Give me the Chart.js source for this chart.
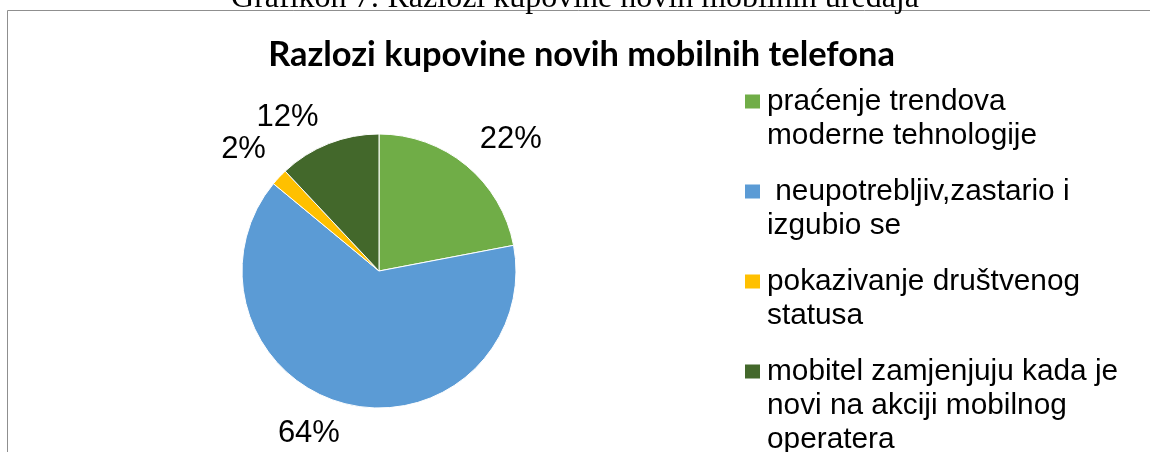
<!DOCTYPE html>
<html><head><meta charset="utf-8">
<script src="https://cdn.jsdelivr.net/npm/chart.js@4/dist/chart.umd.min.js"></script>
<style>html,body{margin:0;padding:0;background:#fff;overflow:hidden}canvas{display:block}</style>
</head><body>
<canvas id="c" width="1150" height="452"></canvas>
<script>
const caption = 'Grafikon 7: Razlozi kupovine novih mobilnih uređaja';
const chartTitle = 'Razlozi kupovine novih mobilnih telefona';
const categories = [
  'praćenje trendova moderne tehnologije',
  ' neupotrebljiv,zastario i izgubio se',
  'pokazivanje društvenog statusa',
  'mobitel zamjenjuju kada je novi na akciji mobilnog operatera'
];
const legendLines = [
  ['praćenje trendova', 'moderne tehnologije'],
  [' neupotrebljiv,zastario i', 'izgubio se'],
  ['pokazivanje društvenog', 'statusa'],
  ['mobitel zamjenjuju kada je', 'novi na akciji mobilnog', 'operatera']
];
const values = [22, 64, 2, 12];
const sliceColors = ['#70AD47', '#5B9BD5', '#FFC000', '#43682B'];

// label placement (style/layout, not data)
const labelNudgeDeg = [5.5, 9, -1.3, -9.1];
const labelGap = [49, 39.5, 45, 42];

const total = values.reduce((a, b) => a + b, 0);

const decor = {
  id: 'decor',
  beforeDraw(chart) {
    const ctx = chart.ctx;
    ctx.save();
    ctx.fillStyle = '#fff';
    ctx.fillRect(0, 0, chart.width, chart.height);
    // frame
    ctx.strokeStyle = '#8f8f8f';
    ctx.lineWidth = 1;
    ctx.beginPath();
    ctx.moveTo(7.5, chart.height);
    ctx.lineTo(7.5, 10.5);
    ctx.lineTo(chart.width, 10.5);
    ctx.stroke();
    // caption (cut at top)
    ctx.fillStyle = '#000';
    ctx.font = '32px "Liberation Serif", "Times New Roman", serif';
    ctx.textAlign = 'center';
    ctx.textBaseline = 'alphabetic';
    ctx.fillText(caption, 575, 7);
    // title
    let fs = 30;
    ctx.font = 'bold ' + fs + 'px Lato, "Open Sans", sans-serif';
    const w = ctx.measureText(chartTitle).width;
    fs = fs * 627 / w;
    ctx.font = 'bold ' + fs.toFixed(2) + 'px Lato, "Open Sans", sans-serif';
    ctx.fillText(chartTitle, 581.5, 66);
    ctx.restore();
  },
  afterDraw(chart) {
    const ctx = chart.ctx;
    const meta = chart.getDatasetMeta(0);
    ctx.save();
    ctx.fillStyle = '#000';
    ctx.font = '31px "Liberation Sans", Arial, sans-serif';
    ctx.textAlign = 'center';
    ctx.textBaseline = 'middle';
    meta.data.forEach((arc, i) => {
      const p = arc.getProps(['x', 'y', 'startAngle', 'endAngle', 'outerRadius'], true);
      const mid = (p.startAngle + p.endAngle) / 2 + labelNudgeDeg[i] * Math.PI / 180;
      const d = p.outerRadius + labelGap[i];
      const txt = Math.round(values[i] / total * 100) + '%';
      ctx.fillText(txt, p.x + Math.cos(mid) * d, p.y + Math.sin(mid) * d);
    });
    // legend
    ctx.font = '29.8px "Liberation Sans", Arial, sans-serif';
    ctx.textAlign = 'left';
    ctx.textBaseline = 'alphabetic';
    const lineH = 34;
    let base = 109.5;
    legendLines.forEach((lines, i) => {
      ctx.fillStyle = sliceColors[i];
      ctx.fillRect(745, base - 15, 15, 14);
      ctx.fillStyle = '#000';
      lines.forEach((ln, j) => ctx.fillText(ln, 767, base + j * lineH));
      base += lines.length * lineH + 22;
    });
    ctx.restore();
  }
};

new Chart(document.getElementById('c'), {
  type: 'pie',
  data: {
    labels: categories,
    datasets: [{
      data: values,
      backgroundColor: sliceColors,
      borderColor: '#ffffff',
      borderWidth: 1
    }]
  },
  options: {
    responsive: false,
    animation: false,
    events: [],
    radius: 137,
    layout: { padding: { left: 242, top: 134, right: 634, bottom: 44 } },
    plugins: {
      legend: { display: false },
      title: { display: false },
      tooltip: { enabled: false }
    }
  },
  plugins: [decor]
});
</script>
</body></html>
